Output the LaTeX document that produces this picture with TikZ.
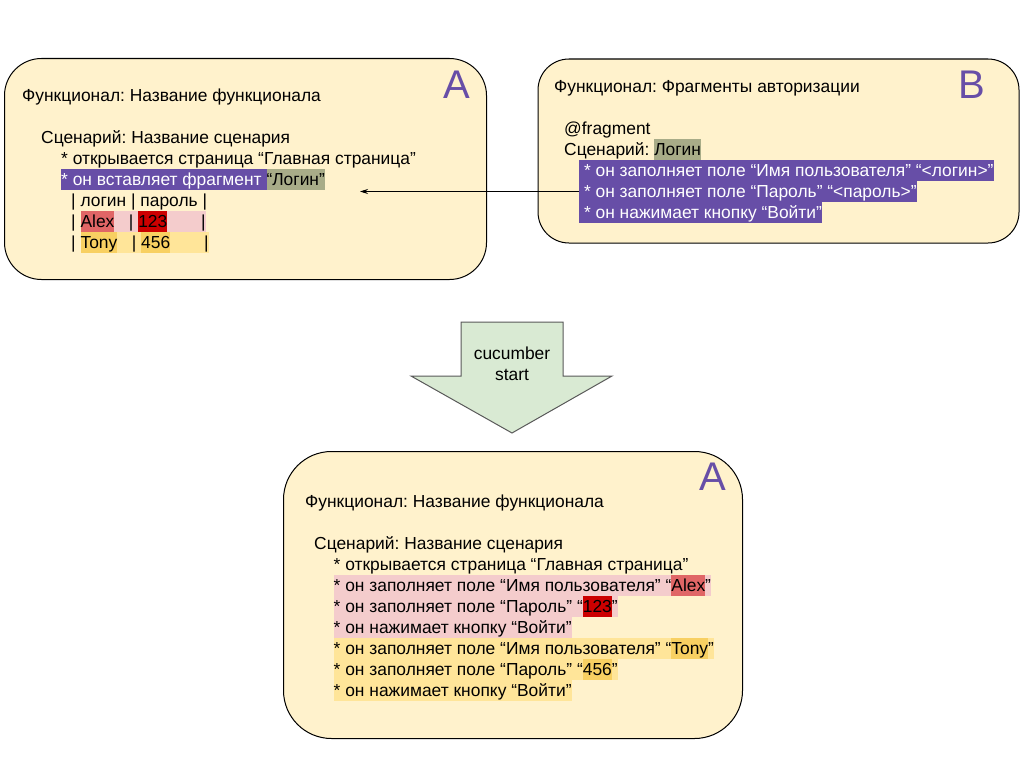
\documentclass[tikz,border=0pt]{standalone}
\usepackage{fontspec}
\setmainfont{Liberation Sans}
\usetikzlibrary{
    positioning,
    arrows.meta
}
\definecolor{cardYellow}{HTML}{FFF2CC}
\definecolor{stepPurple}{HTML}{674EA7}
\definecolor{loginOlive}{RGB}{168, 172, 136}
\definecolor{rowPink}{HTML}{F4CCCC}
\definecolor{alexRed}{HTML}{E06666}
\definecolor{pwdRed}{HTML}{CC0000}
\definecolor{rowYellow}{HTML}{FFE599}
\definecolor{tonyGold}{RGB}{248, 208, 98}
\definecolor{arrowGreen}{HTML}{D9EAD3}

% highlighted run of text, one line tall
\newcommand{\hl}[2]{{\setlength{\fboxsep}{0pt}\colorbox{#1}{\rule[-4.5pt]{0pt}{21pt}#2}}}

\tikzset{
    card/.style={draw=black, line width=1pt, fill=cardYellow, anchor=north west, inner sep=0pt},
    txt/.style={anchor=base west, inner sep=0pt, font=\fontsize{17.4}{21}\selectfont\frenchspacing},
    letter/.style={anchor=base, inner sep=0pt, text=stepPurple, font=\fontsize{40}{40}\selectfont}
}

\begin{document}
\begin{tikzpicture}[x=1pt, y=-1pt, >={Stealth[length=8pt, width=5pt]}]
        \useasboundingbox (0,0) rectangle (1024,768);

        % Feature A with the fragment call
        \node[card, rounded corners=37pt, minimum width=482pt, minimum height=221pt] (cardA) at (4,58) {};
        \node[letter] (letterA) at (456.5,98) {A};
        \node[txt] (featA) at (22,101.5) {Функционал: Название функционала};
        \node[txt] (scenA) at (41,143.5) {Сценарий: Название сценария};
        \node[txt] (openA) at (61,164) {* открывается страница “Главная страница”};
        \node[txt] (insertA) at (61,185) {\hl{stepPurple}{\color{white}* он вставляет фрагмент }\hl{loginOlive}{“Логин”}};
        \node[txt] (headA) at (71,206) {| логин | пароль |};
        \node[txt] (alexA) at (71,227) {| \hl{rowPink}{\hl{alexRed}{Alex}\ \ \ | \hl{pwdRed}{123}\ \ \ \ \ \ \ |}};
        \node[txt] (tonyA) at (71,248) {| \hl{rowYellow}{\hl{tonyGold}{Tony}\ \ \ | \hl{tonyGold}{456}\ \ \ \ \ \ \ |}};

        % Feature B with the fragment
        \node[card, rounded corners=31pt, minimum width=481pt, minimum height=184pt] (cardB) at (537.5,58.5) {};
        \node[letter] (letterB) at (971.5,98) {B};
        \node[txt] (featB) at (554,92.5) {Функционал: Фрагменты авторизации};
        \node[txt] (tagB) at (564,134.5) {@fragment};
        \node[txt] (scenB) at (564,155.5) {Сценарий: \hl{loginOlive}{Логин}};
        \node[txt] (stepB1) at (579,176.5) {\hl{stepPurple}{\color{white}\ * он заполняет поле “Имя пользователя” “<логин>”}};
        \node[txt] (stepB2) at (579,197.5) {\hl{stepPurple}{\color{white}\ * он заполняет поле “Пароль” “<пароль>”}};
        \node[txt] (stepB3) at (579,218.5) {\hl{stepPurple}{\color{white}\ * он нажимает кнопку “Войти”}};

        \coordinate (fragTarget) at (360,191.5);
        \draw[->, line width=0.8pt] (stepB2.west) -- (fragTarget);

        % cucumber start
        \draw[fill=arrowGreen, draw=black!65, line width=1pt]
            (461,322) -- (563,322) -- (563,376) -- (612,376) -- (512,433) -- (411,376) -- (461,376) -- cycle;
        \node[inner sep=0pt, align=center, font=\fontsize{17.4}{21}\selectfont] (cuke) at (512,364) {cucumber\\start};

        % Feature A after expansion
        \node[card, rounded corners=48pt, minimum width=459pt, minimum height=287pt] (cardA2) at (283,451) {};
        \node[letter] (letterA2) at (712.5,490) {A};
        \node[txt] (featA2) at (305,507) {Функционал: Название функционала};
        \node[txt] (scenA2) at (314,549) {Сценарий: Название сценария};
        \node[txt] (openA2) at (333.5,570) {* открывается страница “Главная страница”};
        \node[txt] (userAlex) at (333.5,591) {\hl{rowPink}{* он заполняет поле “Имя пользователя” “}\hl{alexRed}{Alex}\hl{rowPink}{”}};
        \node[txt] (pwdAlex) at (333.5,612) {\hl{rowPink}{* он заполняет поле “Пароль” “}\hl{pwdRed}{123}\hl{rowPink}{”}};
        \node[txt] (loginAlex) at (333.5,633) {\hl{rowPink}{* он нажимает кнопку “Войти”}};
        \node[txt] (userTony) at (333.5,654) {\hl{rowYellow}{* он заполняет поле “Имя пользователя” “}\hl{tonyGold}{Tony}\hl{rowYellow}{”}};
        \node[txt] (pwdTony) at (333.5,675) {\hl{rowYellow}{* он заполняет поле “Пароль” “}\hl{tonyGold}{456}\hl{rowYellow}{”}};
        \node[txt] (loginTony) at (333.5,696) {\hl{rowYellow}{* он нажимает кнопку “Войти”}};
    \end{tikzpicture}
\end{document}
